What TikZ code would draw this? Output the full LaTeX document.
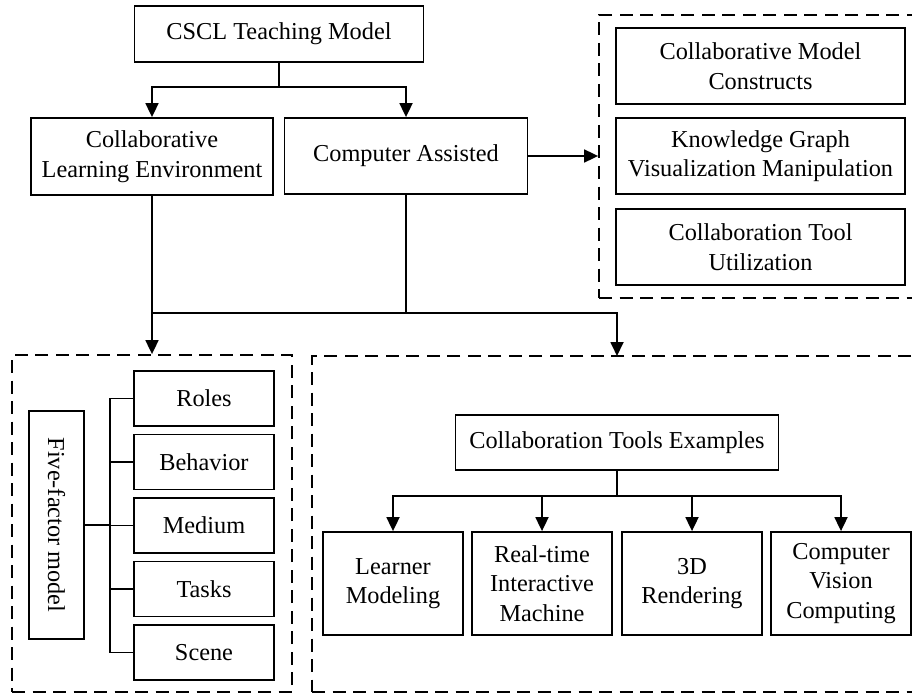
\documentclass[tikz,border=0pt]{standalone}
\usepackage{fontspec}
\setmainfont{Liberation Serif}
\usetikzlibrary{arrows.meta}
\tikzset{
  bx/.style={draw, line width=1.8pt, align=center, inner sep=0pt, font=\fontsize{24.3}{29.5}\selectfont},
  dbox/.style={draw, line width=1.8pt, dash pattern=on 13pt off 7.5pt, inner sep=0pt},
  arr/.style={line width=1.8pt, -{Triangle[length=14pt,width=13pt]}},
  ln/.style={line width=1.8pt},
}
\begin{document}
\begin{tikzpicture}[x=1pt,y=-1pt]
\useasboundingbox (0,0) rectangle (912,695);
\clip (0,0) rectangle (912,695);
% dashed groups
\node[dbox, minimum width=316pt, minimum height=283pt] (dtr) at (757,156.5) {};
\node[dbox, minimum width=280pt, minimum height=337pt] (dbl) at (152,523.5) {};
\node[dbox, minimum width=603pt, minimum height=336pt] (dbr) at (613.5,524) {};
% top
\node[bx, minimum width=289pt, minimum height=56pt] (cscl) at (279,34) {CSCL Teaching Model};
\node[bx, minimum width=242pt, minimum height=77pt] (cle) at (152,156.5) {Collaborative\\Learning Environment};
\node[bx, minimum width=243pt, minimum height=76pt] (ca) at (406,156) {Computer Assisted};
% right group
\node[bx, minimum width=289pt, minimum height=76pt] (cmc) at (760.5,66) {Collaborative Model\\Constructs};
\node[bx, minimum width=289pt, minimum height=76pt] (kg) at (760.5,156) {Knowledge Graph\\Visualization Manipulation};
\node[bx, minimum width=289pt, minimum height=76pt] (ctu) at (760.5,247) {Collaboration Tool\\Utilization};
% five-factor
\node[bx, rotate=-90, minimum width=228pt, minimum height=55pt] (ff) at (56.5,525) {Five-factor model};
\node[bx, minimum width=140pt, minimum height=55pt] (roles) at (204,398.5) {Roles};
\node[bx, minimum width=140pt, minimum height=55pt] (beh) at (204,462) {Behavior};
\node[bx, minimum width=140pt, minimum height=55pt] (med) at (204,525.5) {Medium};
\node[bx, minimum width=140pt, minimum height=55pt] (tasks) at (204,589) {Tasks};
\node[bx, minimum width=140pt, minimum height=55pt] (scene) at (204,652.5) {Scene};
% tools
\node[bx, minimum width=323pt, minimum height=55pt] (cte) at (617,442.5) {Collaboration Tools Examples};
\node[bx, minimum width=140pt, minimum height=103pt] (lm) at (393,583.5) {Learner\\Modeling};
\node[bx, minimum width=140pt, minimum height=103pt] (rt) at (542,583.5) {Real-time\\Interactive\\Machine};
\node[bx, minimum width=140pt, minimum height=103pt] (r3d) at (692,583.5) {3D\\Rendering};
\node[bx, minimum width=140pt, minimum height=103pt] (cv) at (841,583.5) {Computer\\Vision\\Computing};
% connectors
\coordinate (j1) at (279,87);
\draw[ln] (cscl.south) -- (j1);
\draw[arr] (j1) -| (cle.north);
\draw[arr] (j1) -| (ca.north);
\draw[arr] (ca.east) -- (ca.east -| dtr.west);
\draw[arr] (cle.south) -- (dbl.north);
\coordinate (j2) at (406,313);
\coordinate (t2) at (617,356);
\draw[ln] (ca.south) -- (j2);
\draw[ln] (j2) -- (cle.south |- j2);
\draw[arr] (j2) -| (t2);
\coordinate (j3) at (617,496);
\draw[ln] (cte.south) -- (j3);
\draw[arr] (j3) -| (lm.north);
\draw[arr] (j3) -| (rt.north);
\draw[arr] (j3) -| (r3d.north);
\draw[arr] (j3) -| (cv.north);
\coordinate (tr) at (110,525);
\draw[ln] (ff.north) -- (tr);
\draw[ln] (roles.west) -| (tr |- scene.west) -- (scene.west);
\draw[ln] (beh.west) -- (beh.west -| tr);
\draw[ln] (med.west) -- (med.west -| tr);
\draw[ln] (tasks.west) -- (tasks.west -| tr);
\end{tikzpicture}
\end{document}
